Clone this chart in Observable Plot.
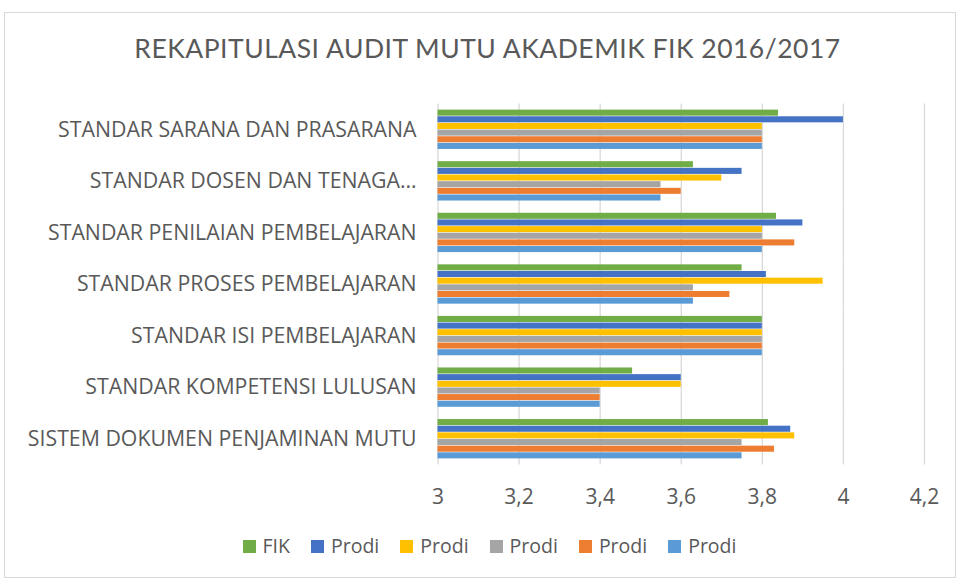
<!DOCTYPE html>
<html><head><meta charset="utf-8">
<script src="https://cdn.jsdelivr.net/npm/d3@7"></script>
<script src="https://cdn.jsdelivr.net/npm/@observablehq/plot@0.6"></script>
<style>
body{margin:0;background:#fff;}
#wrap{position:relative;width:957px;height:579px;font-family:"Open Sans",Lato,sans-serif;color:#595959;overflow:hidden;}
#frame{position:absolute;left:4px;top:12px;width:952px;height:566px;border:1px solid #d9d9d9;box-sizing:border-box;}
#title{position:absolute;left:18px;width:939px;top:33px;text-align:center;font-family:Lato,sans-serif;font-size:26.5px;letter-spacing:0.5px;line-height:30px;}
#chart{position:absolute;left:0;top:90px;}
#legend{position:absolute;left:22px;width:935px;top:534px;display:flex;justify-content:center;align-items:center;font-size:19.5px;line-height:24px;}
.item{display:flex;align-items:center;margin:0 10.5px;}
.sw{width:13px;height:13px;margin-right:7px;}
</style></head>
<body>
<div id="wrap">
<div id="frame"></div>
<div id="title">REKAPITULASI AUDIT MUTU AKADEMIK FIK 2016/2017</div>
<div id="chart"></div>
<div id="legend"></div>
</div>
<script>
const categories = [
  "STANDAR SARANA DAN PRASARANA",
  "STANDAR DOSEN DAN TENAGA…",
  "STANDAR PENILAIAN PEMBELAJARAN",
  "STANDAR PROSES PEMBELAJARAN",
  "STANDAR ISI PEMBELAJARAN",
  "STANDAR KOMPETENSI LULUSAN",
  "SISTEM DOKUMEN PENJAMINAN MUTU"
];
const seriesLabels = ["FIK", "Prodi", "Prodi", "Prodi", "Prodi", "Prodi"];
const seriesKeys = ["s0", "s1", "s2", "s3", "s4", "s5"];
const seriesColors = ["#70AD47", "#4472C4", "#FFC000", "#A5A5A5", "#ED7D31", "#5B9BD5"];
const fik    = [3.84, 3.63, 3.835, 3.75, 3.80, 3.48, 3.815];
const prodi1 = [4.00, 3.75, 3.90, 3.81, 3.80, 3.60, 3.87];
const prodi2 = [3.80, 3.70, 3.80, 3.95, 3.80, 3.60, 3.88];
const prodi3 = [3.80, 3.55, 3.80, 3.63, 3.80, 3.40, 3.75];
const prodi4 = [3.80, 3.60, 3.88, 3.72, 3.80, 3.40, 3.83];
const prodi5 = [3.80, 3.55, 3.80, 3.63, 3.80, 3.40, 3.75];
const xTicks = [3, 3.2, 3.4, 3.6, 3.8, 4, 4.2];

const seriesValues = [fik, prodi1, prodi2, prodi3, prodi4, prodi5];
const data = [];
categories.forEach((c, i) => {
  seriesKeys.forEach((k, j) => {
    data.push({category: c, key: k, value: seriesValues[j][i]});
  });
});

const chart = Plot.plot({
  width: 957,
  height: 430,
  marginLeft: 437.5,
  marginRight: 33,
  marginTop: 13.5,
  marginBottom: 55.5,
  style: {fontFamily: "'Open Sans', Lato, sans-serif", color: "#595959", background: "transparent"},
  x: {domain: [xTicks[0], xTicks[xTicks.length - 1]]},
  fy: {domain: categories, padding: 0, round: false},
  y: {domain: seriesKeys, paddingInner: 0, paddingOuter: 0.875, round: false, axis: null},
  color: {domain: seriesKeys, range: seriesColors},
  marks: [
    Plot.gridX(xTicks, {stroke: "#d9d9d9", strokeOpacity: 1, strokeWidth: 1.3}),
    Plot.barX(data, {fy: "category", y: "key", x1: () => xTicks[0], x2: "value", fill: "key", insetTop: 0.3, insetBottom: 0.3}),
    Plot.axisX(xTicks, {tickSize: 0, tickPadding: 24, fontSize: 21, label: null, tickFormat: d => String(d).replace(".", ","), fill: "#595959"}),
    Plot.axisFy({anchor: "left", tickSize: 0, tickPadding: 21.5, fontSize: 21.3, label: null, fill: "#595959"})
  ]
});
document.getElementById("chart").appendChild(chart);

const legend = document.getElementById("legend");
seriesLabels.forEach((l, i) => {
  const it = document.createElement("div");
  it.className = "item";
  it.innerHTML = `<span class="sw" style="background:${seriesColors[i]}"></span><span>${l}</span>`;
  legend.appendChild(it);
});
</script>
</body></html>
